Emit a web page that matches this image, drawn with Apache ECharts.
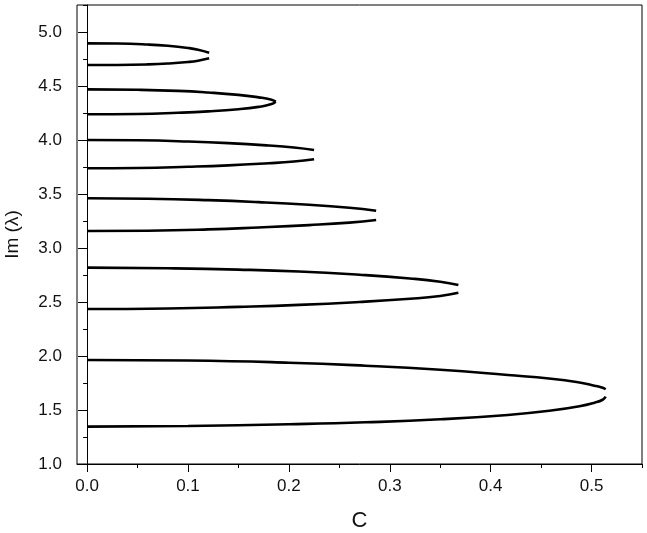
<!DOCTYPE html>
<html>
<head>
<meta charset="utf-8">
<script src="https://cdn.jsdelivr.net/npm/echarts@6.0.0/dist/echarts.min.js"></script>
<style>
  html, body { margin: 0; padding: 0; background: #fff; }
  #chart { width: 647px; height: 533px; }
</style>
</head>
<body>
<div id="chart"></div>
<script>
// tick values
const xTicks = [0, 0.1, 0.2, 0.3, 0.4, 0.5]
const xMinorTicks = [0.05, 0.15, 0.25, 0.35, 0.45, 0.55]
const yTicks = [1.0, 1.5, 2.0, 2.5, 3.0, 3.5, 4.0, 4.5, 5.0]
const yMinorTicks = [1.25, 1.75, 2.25, 2.75, 3.25, 3.75, 4.25, 4.75, 5.25]

// branch 1 (top)
const c1 = [0, 0.03, 0.06, 0.08, 0.10, 0.11, 0.121]
const up1 = [4.895, 4.893, 4.884, 4.872, 4.852, 4.836, 4.808]
const lo1 = [4.694, 4.695, 4.700, 4.708, 4.722, 4.734, 4.756]

// branch 2
const c2 = [0, 0.05, 0.09, 0.12, 0.15, 0.17, 0.182, 0.187]
const up2 = [4.469, 4.465, 4.455, 4.440, 4.418, 4.395, 4.375, 4.355]
const lo2 = [4.238, 4.241, 4.252, 4.265, 4.285, 4.307, 4.330, 4.355]

// branch 3
const c3 = [0, 0.05, 0.10, 0.14, 0.18, 0.205, 0.225]
const up3 = [4.000, 3.997, 3.986, 3.971, 3.949, 3.930, 3.907]
const lo3 = [3.738, 3.741, 3.752, 3.765, 3.785, 3.801, 3.821]

// branch 4
const c4 = [0, 0.06, 0.12, 0.17, 0.22, 0.26, 0.2865]
const up4 = [3.460, 3.456, 3.443, 3.425, 3.400, 3.372, 3.345]
const lo4 = [3.157, 3.160, 3.172, 3.190, 3.212, 3.235, 3.259]

// branch 5
const c5 = [0, 0.08, 0.15, 0.21, 0.27, 0.32, 0.35, 0.368]
const up5 = [2.818, 2.812, 2.800, 2.782, 2.752, 2.718, 2.688, 2.657]
const lo5 = [2.435, 2.440, 2.455, 2.473, 2.500, 2.530, 2.556, 2.586]

// branch 6 (bottom)
const c6 = [0, 0.1, 0.2, 0.276, 0.35, 0.417, 0.46, 0.488, 0.503, 0.511, 0.514]
const up6 = [1.963, 1.958, 1.938, 1.910, 1.872, 1.824, 1.790, 1.755, 1.725, 1.705, 1.692]
const lo6 = [1.346, 1.352, 1.368, 1.386, 1.414, 1.454, 1.495, 1.535, 1.568, 1.595, 1.623]

const branches = [
  [c1, up1, lo1],
  [c2, up2, lo2],
  [c3, up3, lo3],
  [c4, up4, lo4],
  [c5, up5, lo5],
  [c6, up6, lo6],
]

const font = 'Liberation Sans, Arial, sans-serif'
const black = '#000'

let series = []
branches.forEach(([c, up, lo]) => {
  ;[up, lo].forEach((v) => {
    series.push({
      type: 'line',
      data: c.map((x, i) => [x, v[i]]),
      smooth: 0.5,
      showSymbol: false,
      lineStyle: { color: black, width: 2.6 },
      xAxisIndex: 0,
      yAxisIndex: 0,
    })
  })
})

const myChart = echarts.init(document.getElementById('chart'))
myChart.setOption({
  animation: false,
  grid: {
    left: 77,
    right: 5,
    top: 5,
    bottom: 69,
    outerBoundsMode: 'none',
    show: true,
    borderColor: black,
    borderWidth: 1,
  },
  xAxis: [
    {
      type: 'value',
      min: -0.01,
      max: 0.55,
      name: 'C',
      nameLocation: 'middle',
      nameGap: 46,
      nameMoveOverlap: false,
      nameTextStyle: { fontFamily: font, fontSize: 22, color: '#111' },
      axisLine: { show: true, lineStyle: { color: black, width: 1 } },
      axisTick: { show: true, length: 8, customValues: xTicks, lineStyle: { color: black } },
      axisLabel: {
        customValues: xTicks,
        formatter: (v) => v.toFixed(1),
        margin: 14,
        fontFamily: font,
        fontSize: 17,
        color: '#111',
      },
      splitLine: { show: false },
    },
    {
      type: 'value',
      min: -0.01,
      max: 0.55,
      position: 'bottom',
      axisLine: { show: false },
      axisTick: { show: true, length: 4, customValues: xMinorTicks, lineStyle: { color: black } },
      axisLabel: { show: false },
      splitLine: { show: false },
    },
  ],
  yAxis: [
    {
      type: 'value',
      min: 1.0,
      max: 5.25,
      name: 'Im (λ)',
      nameLocation: 'middle',
      nameGap: 55,
      nameMoveOverlap: false,
      nameTextStyle: { fontFamily: font, fontSize: 19, color: '#111' },
      axisLine: { show: true, lineStyle: { color: black, width: 1 } },
      axisTick: { show: true, length: 9, customValues: yTicks, lineStyle: { color: black } },
      axisLabel: {
        customValues: yTicks,
        formatter: (v) => v.toFixed(1),
        margin: 15,
        fontFamily: font,
        fontSize: 17,
        color: '#111',
      },
      splitLine: { show: false },
    },
    {
      type: 'value',
      min: 1.0,
      max: 5.25,
      position: 'left',
      axisLine: { show: false },
      axisTick: { show: true, length: 4, customValues: yMinorTicks, lineStyle: { color: black } },
      axisLabel: { show: false },
      splitLine: { show: false },
    },
  ],
  series: series,
})
</script>
</body>
</html>
